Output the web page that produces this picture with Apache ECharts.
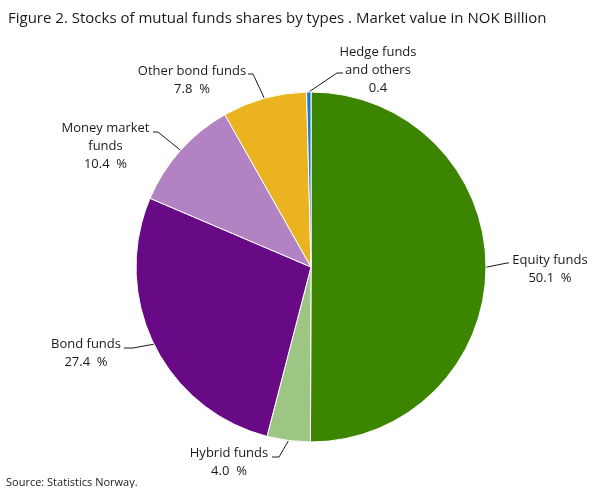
<!DOCTYPE html>
<html>
<head>
<meta charset="utf-8">
<script src="https://cdn.jsdelivr.net/npm/echarts@6/dist/echarts.min.js"></script>
<style>
html,body{margin:0;padding:0;background:#fff;}
#chart{width:608px;height:488px;}
</style>
</head>
<body>
<div id="chart"></div>
<script>
const categories = ["Equity funds", "Hybrid funds", "Bond funds", "Money market\nfunds", "Other bond funds", "Hedge funds\nand others"];
const values = [50.1, 4.0, 27.4, 10.4, 7.8, 0.4];
const valueLabels = ["50.1  %", "4.0  %", "27.4  %", "10.4  %", "7.8  %", "0.4"];
const colors = ["#3b8500", "#9dc684", "#680a85", "#b382c3", "#ebb31f", "#1b78cf"];

// label placement (layout only)
const labelPos = [[550, 269], [229, 462.5], [86, 353.5], [105.5, 146], [192, 80], [378, 70.5]];
const lineEnd = [[509, 263], [272, 457], [124, 348], [153, 132], [248, 74], [343, 73]];
const lineElbow = [[507, 263], [279, 457], [133, 348], [158, 132], [253, 74], [337, 73]];

const chart = echarts.init(document.getElementById('chart'), null, {renderer: 'canvas'});
chart.setOption({
  animation: false,
  color: colors,
  title: [{
    text: "Figure 2. Stocks of mutual funds shares by types . Market value in NOK Billion",
    left: 3, top: 6,
    textStyle: {fontFamily: "Open Sans", fontSize: 15, fontWeight: 'normal', color: '#1a1a1a'}
  }, {
    text: "Source: Statistics Norway.",
    left: 1, top: 472,
    textStyle: {fontFamily: "Open Sans", fontSize: 11, fontWeight: 'normal', color: '#1a1a1a'}
  }],
  series: [{
    type: 'pie',
    center: [311, 267],
    radius: [0, 175],
    startAngle: 90,
    clockwise: true,
    avoidLabelOverlap: false,
    itemStyle: {borderColor: '#fff', borderWidth: 1},
    label: {
      show: true,
      position: 'outside',
      fontFamily: "Open Sans",
      fontSize: 13,
      color: '#1a1a1a',
      lineHeight: 18,
      align: 'center',
      formatter: p => categories[p.dataIndex] + "\n" + valueLabels[p.dataIndex]
    },
    labelLine: {show: true, length: 15, length2: 10, lineStyle: {color: '#1a1a1a', width: 1}},
    labelLayout: p => {
      const i = p.dataIndex;
      const start = p.labelLinePoints ? p.labelLinePoints[0] : null;
      const out = {x: labelPos[i][0], y: labelPos[i][1], align: 'center', verticalAlign: 'middle'};
      if (start) out.labelLinePoints = [start, lineElbow[i], lineEnd[i]];
      return out;
    },
    data: values.map((v, i) => ({name: categories[i], value: v}))
  }]
});
</script>
</body>
</html>
